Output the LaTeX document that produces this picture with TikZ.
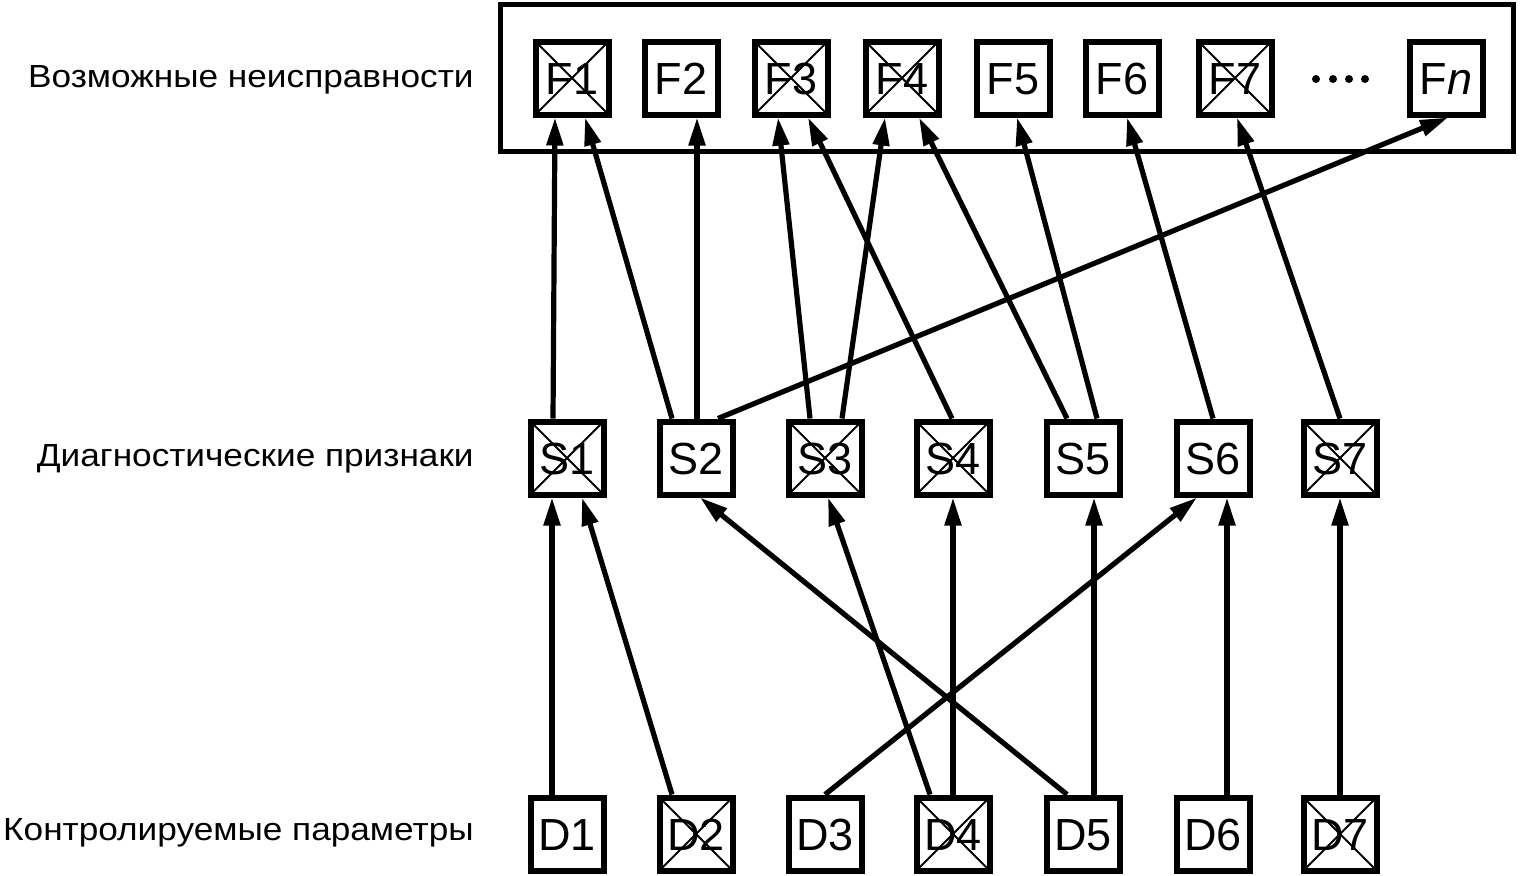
\documentclass[tikz,border=0pt]{standalone}
\usepackage{fontspec}
\setmainfont{Liberation Sans}
\usetikzlibrary{arrows.meta,calc}

\begin{document}
\begin{tikzpicture}[x=0.5pt, y=-0.5pt,
  box/.style={draw, line width=3pt, minimum size=36.5pt, inner sep=0pt,
    text height=16pt, text depth=0pt, font=\fontsize{22.5}{26}\selectfont},
  crossed/.style={box, path picture={
    \draw[line width=1pt] (path picture bounding box.north west) -- (path picture bounding box.south east)
      (path picture bounding box.south west) -- (path picture bounding box.north east);}},
  link/.style={line width=2.6pt, -{Triangle[length=14pt, width=8pt]}},
  rowlab/.style={anchor=base east, inner sep=0pt,
    font=\fontsize{16}{19}\selectfont\addfontfeatures{FakeStretch=1.1}}]

\useasboundingbox (0,0) rectangle (1531,875);

% ---- row labels ---------------------------------------------------------
\node[rowlab] (labF) at (474,87)  {Возможные неисправности};
\node[rowlab] (labS) at (474,466) {Диагностические признаки};
\node[rowlab] (labD) at (474,840) {Контролируемые параметры};

% ---- possible faults ----------------------------------------------------
\draw[line width=2.5pt] (500,4) rectangle (1513,151);
\node[crossed] (F1) at (572,78)  {F1};
\node[box]     (F2) at (681,78)  {F2};
\node[crossed] (F3) at (791,78)  {F3};
\node[crossed] (F4) at (902,78)  {F4};
\node[box]     (F5) at (1013,78) {F5};
\node[box]     (F6) at (1122,78) {F6};
\node[crossed] (F7) at (1235,78) {F7};
\node[box]     (Fn) at (1446,78) {F\textit{n}};
\foreach \dx in {1316,1333,1349,1365}
  \fill (\dx,79) circle (4);

% ---- diagnostic signs ---------------------------------------------------
\node[crossed] (S1) at (567,458)  {S1};
\node[box]     (S2) at (696,458)  {S2};
\node[crossed] (S3) at (825,458)  {S3};
\node[crossed] (S4) at (953,458)  {S4};
\node[box]     (S5) at (1083,458) {S5};
\node[box]     (S6) at (1213,458) {S6};
\node[crossed] (S7) at (1340,458) {S7};

% ---- monitored parameters -----------------------------------------------
\node[box]     (D1) at (567,834)  {D1};
\node[crossed] (D2) at (696,834)  {D2};
\node[box]     (D3) at (825,834)  {D3};
\node[crossed] (D4) at (953,834)  {D4};
\node[box]     (D5) at (1083,834) {D5};
\node[box]     (D6) at (1213,834) {D6};
\node[crossed] (D7) at (1340,834) {D7};

% ---- parameters -> signs ------------------------------------------------
\draw[link] ($(D1.north)+(-15,0)$) -- ($(S1.south)+(-15,0)$);
\draw[link] ($(D2.north)+(-24,0)$) -- ($(S1.south)+(15,0)$);
\draw[link] (D3.north) -- ($(S6.south)+(-16,0)$);
\draw[link] ($(D4.north)+(-23,0)$) -- ($(S3.south)+(3,0)$);
\draw[link] (D4.north) -- (S4.south);
\draw[link] ($(D5.north)+(-16,0)$) -- ($(S2.south)+(4,0)$);
\draw[link] ($(D5.north)+(11,0)$) -- ($(S5.south)+(11,0)$);
\draw[link] ($(D6.north)+(14,0)$) -- ($(S6.south)+(14,0)$);
\draw[link] (D7.north) -- (S7.south);

% ---- signs -> faults ----------------------------------------------------
\draw[link] ($(S1.north)+(-14,0)$) -- ($(F1.south)+(-17,0)$);
\draw[link] ($(S2.north)+(-24,0)$) -- ($(F1.south)+(13,0)$);
\draw[link] ($(S2.north)+(1,0)$) -- ($(F2.south)+(16,0)$);
\draw[link] ($(S2.north)+(22,0)$) -- ($(Fn.south)+(2,0)$);
\draw[link] ($(S3.north)+(-15,0)$) -- ($(F3.south)+(-13,0)$);
\draw[link] ($(S3.north)+(17,0)$) -- ($(F4.south)+(-17,0)$);
\draw[link] ($(S4.north)+(-1,0)$) -- ($(F3.south)+(17,0)$);
\draw[link] ($(S5.north)+(-16,0)$) -- ($(F4.south)+(17,0)$);
\draw[link] ($(S5.north)+(14,0)$) -- ($(F5.south)+(4,0)$);
\draw[link] (S6.north) -- ($(F6.south)+(5,0)$);
\draw[link] (S7.north) -- ($(F7.south)+(2,0)$);

\end{tikzpicture}
\end{document}
